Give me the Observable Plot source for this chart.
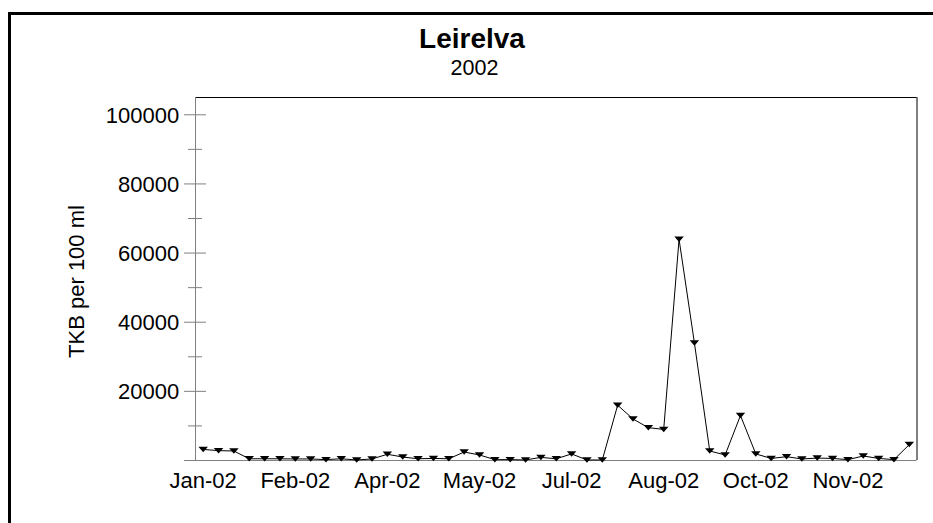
<!DOCTYPE html>
<html>
<head>
<meta charset="utf-8">
<script src="https://cdn.jsdelivr.net/npm/d3@7"></script>
<script src="https://cdn.jsdelivr.net/npm/@observablehq/plot@0.6"></script>
<style>
  html, body { margin: 0; padding: 0; background: #fff; }
  #wrap { position: relative; width: 933px; height: 523px; overflow: hidden; font-family: "Liberation Sans", Arial, sans-serif; background: #fff; }
  #border { position: absolute; left: 8px; top: 12px; width: 960px; height: 560px; border-left: 3px solid #000; border-top: 3px solid #000; box-sizing: border-box; }
  #chart { position: absolute; left: 0; top: 0; }
  .t { position: absolute; text-align: center; white-space: nowrap; color: #000; }
  #title { left: 322px; width: 300px; top: 29.3px; font-size: 28px; line-height: 20px; font-weight: bold; }
  #subtitle { left: 324.5px; width: 300px; top: 59.5px; font-size: 21.5px; line-height: 16px; }
</style>
</head>
<body>
<div id="wrap">
  <div id="border"></div>
  <div id="chart"></div>
  <div id="title" class="t">Leirelva</div>
  <div id="subtitle" class="t">2002</div>
</div>
<script>
// Sample values (TKB per 100 ml), one per sampling occasion, in order
const values = [3200, 2850, 2750, 500, 500, 500, 450, 450, 250, 500, 150, 450,
  1800, 1000, 500, 600, 500, 2450, 1600, 250, 250, 150, 900, 500, 1900, 150, 150,
  16000, 12000, 9500, 9000, 64000, 34000, 2750, 1600, 13000, 1900, 600, 1100,
  450, 700, 600, 250, 1300, 600, 250, 4600];

// Category labels shown on the x axis and the sample index they sit under
const xLabels = ["Jan-02", "Feb-02", "Apr-02", "May-02", "Jul-02", "Aug-02", "Oct-02", "Nov-02"];
const xLabelIndex = [0, 6, 12, 18, 24, 30, 36, 42];

// Y axis ticks
const yLabelTicks = [20000, 40000, 60000, 80000, 100000];
const yMajorTicks = [0, 20000, 40000, 60000, 80000, 100000];
const yMinorTicks = [10000, 30000, 50000, 70000, 90000];

const yLabel = "TKB per 100 ml";

const samples = values.map((v, i) => ({i, v}));
const labelMap = new Map(xLabelIndex.map((k, j) => [k, xLabels[j]]));

const W = 933, H = 523;
const mL = 195, mR = 16.5, mT = 97, mB = 63;
const frameW = W - mL - mR;

const triDown = {
  draw(context) {
    const w = 9.5, h = 5.5;
    context.moveTo(-w / 2, -h / 2);
    context.lineTo(w / 2, -h / 2);
    context.lineTo(0, h / 2);
    context.closePath();
  }
};

const chart = Plot.plot({
  width: W,
  height: H,
  marginLeft: mL,
  marginRight: mR,
  marginTop: mT,
  marginBottom: mB,
  style: {fontFamily: "'Liberation Sans', Arial, sans-serif", fontSize: "22px", background: "transparent", color: "#000"},
  x: {type: "linear", domain: [-0.5, values.length - 0.5]},
  y: {type: "linear", domain: [0, 105000]},
  marks: [
    // frame: gray left/bottom axes, black top/right
    Plot.ruleY([105000], {stroke: "#000", strokeWidth: 1}),
    Plot.ruleX([values.length - 0.5], {stroke: "#000", strokeWidth: 1}),
    Plot.ruleX([-0.5], {stroke: "#808080", strokeWidth: 1}),
    Plot.ruleY([0], {stroke: "#808080", strokeWidth: 1}),
    // crossing tick marks on y axis
    Plot.tickY(yMajorTicks, {y: d => d, stroke: "#808080", strokeWidth: 1, dx: -11, insetRight: frameW - 22}),
    Plot.tickY(yMinorTicks, {y: d => d, stroke: "#808080", strokeWidth: 1, dx: -7, insetRight: frameW - 14}),
    Plot.axisY({ticks: yLabelTicks, tickSize: 0, tickPadding: 16.3, tickFormat: d3.format("d"), fontSize: 22, label: null, dy: 1}),
    Plot.axisX({ticks: xLabelIndex, tickSize: 0, tickPadding: 11.5, tickFormat: d => labelMap.get(d), fontSize: 22, label: null}),
    Plot.text([yLabel], {text: d => d, frameAnchor: "left", rotate: -90, lineAnchor: "bottom", textAnchor: "middle", dx: -112, dy: 2.5, fontSize: 22, fill: "#000"}),
    Plot.line(samples, {x: "i", y: "v", stroke: "#000", strokeWidth: 1}),
    Plot.dot(samples, {x: "i", y: "v", symbol: triDown, fill: "#000", stroke: "none"})
  ]
});

document.getElementById("chart").appendChild(chart);
</script>
</body>
</html>
